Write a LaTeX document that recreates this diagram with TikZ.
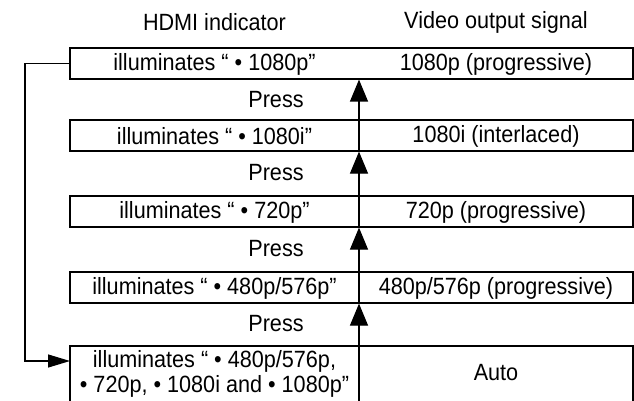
\documentclass[tikz,border=0pt]{standalone}
\usepackage{fontspec}
\setmainfont[FakeStretch=0.92]{Liberation Sans}
\usetikzlibrary{arrows.meta}
\begin{document}
\begin{tikzpicture}[x=1pt,y=-1pt,
  rowbox/.style={draw, line width=1.2pt, minimum width=563pt, minimum height=31pt, inner sep=0pt, anchor=center},
  txt/.style={font=\fontsize{23.5}{25}\selectfont, inner sep=0pt, anchor=center},
  upar/.style={line width=1.2pt, -{Triangle[length=22pt,width=18pt]}},
  sidear/.style={line width=1.2pt, -{Triangle[length=22pt,width=13pt]}},
  link/.style={line width=1.2pt}]
\useasboundingbox (0,0) rectangle (634,401);
% headers
\node[txt] (h1) at (214.5,22) {HDMI indicator};
\node[txt] (h2) at (496,22) {Video output signal};
% rows
\node[rowbox] (r1) at (351.5,63.5) {};
\node[rowbox] (r2) at (351.5,135.5) {};
\node[rowbox] (r3) at (351.5,211.5) {};
\node[rowbox] (r4) at (351.5,287.5) {};
% last row (open at the bottom)
\coordinate (b5sw) at (70,401);
\coordinate (b5nw) at (70,346);
\coordinate (b5ne) at (633,346);
\coordinate (b5se) at (633,401);
\draw[link] (b5sw) -- (b5nw) -- (b5ne) -- (b5se);
% texts
\node[txt] (l1) at (214.5,64) {illuminates “ • 1080p”};
\node[txt] (v1) at (496,64) {1080p (progressive)};
\node[txt] (l2) at (214.5,136) {illuminates “ • 1080i”};
\node[txt] (v2) at (496,136) {1080i (interlaced)};
\node[txt] (l3) at (214.5,212) {illuminates “ • 720p”};
\node[txt] (v3) at (496,212) {720p (progressive)};
\node[txt] (l4) at (214.5,288) {illuminates “ • 480p/576p”};
\node[txt] (v4) at (496,288) {480p/576p (progressive)};
\node[txt] (l5a) at (214.5,361) {illuminates “ • 480p/576p,};
\node[txt] (l5b) at (214.5,386) {• 720p, • 1080i and • 1080p”};
\node[txt] (v5) at (496,373) {Auto};
% press labels
\node[txt] (p1) at (276,100) {Press};
\node[txt] (p2) at (276,173) {Press};
\node[txt] (p3) at (276,249) {Press};
\node[txt] (p4) at (276,324) {Press};
% vertical arrow line (also the column divider)
\coordinate (dv) at (359,401);
\draw[upar] (dv) -- (dv |- r4.south);
\draw[upar] (dv |- r4.south) -- (dv |- r3.south);
\draw[upar] (dv |- r3.south) -- (dv |- r2.south);
\draw[upar] (dv |- r2.south) -- (dv |- r1.south);
% return connector
\coordinate (a5) at (70,361);
\draw[sidear] (r1.west) -- (25,63.5) |- (a5);
\end{tikzpicture}
\end{document}
